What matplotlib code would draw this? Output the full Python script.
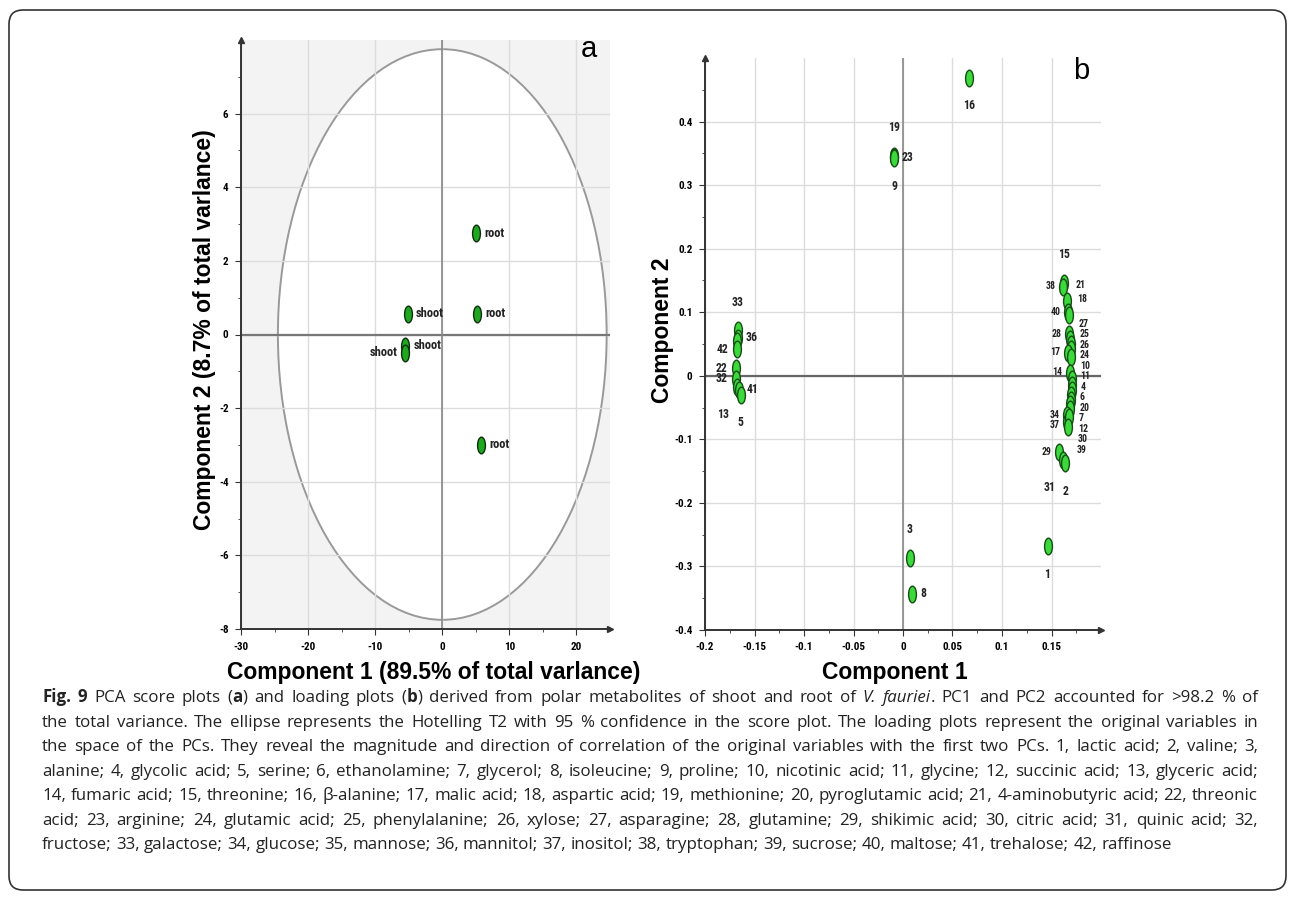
import matplotlib
matplotlib.use("Agg")
import matplotlib.pyplot as plt
import numpy as np
from matplotlib import font_manager
from matplotlib.patches import Ellipse, FancyBboxPatch
from matplotlib.path import Path
from matplotlib.transforms import IdentityTransform, offset_copy

# ---- panel a: PCA scores ----
score_x = [5.1, 5.2, 5.8, -5.1, -5.5, -5.5]
score_y = [2.75, 0.57, -3.0, 0.57, -0.3, -0.5]
score_names = ["root", "root", "root", "shoot", "shoot", "shoot"]
score_side = ["r", "r", "r", "r", "r", "l"]
t2_a, t2_b = 24.5, 7.75   # Hotelling T2 ellipse half axes

# ---- panel b: loadings ----
load_ids = ["16", "19", "23", "9", "3", "8", "1", "29", "31", "2",
            "33", "36", "35", "42", "22", "32", "13", "41", "5",
            "15", "38", "21", "40", "18", "28", "27", "25", "26", "17", "24",
            "14", "10", "11", "4", "6", "20", "7", "12", "34", "37", "30", "39"]
load_x = [0.067, -0.009, -0.009, -0.009, 0.007, 0.009, 0.146, 0.158, 0.162, 0.164,
          -0.167, -0.167, -0.168, -0.168, -0.169, -0.169, -0.168, -0.166, -0.164,
          0.163, 0.162, 0.166, 0.167, 0.168, 0.168, 0.169, 0.170, 0.170, 0.167, 0.170,
          0.169, 0.171, 0.171, 0.171, 0.170, 0.170, 0.169, 0.169, 0.166, 0.166, 0.168, 0.167]
load_y = [0.469, 0.346, 0.344, 0.342, -0.286, -0.343, -0.268, -0.120, -0.133, -0.138,
          0.072, 0.060, 0.055, 0.042, 0.012, -0.005, -0.018, -0.022, -0.030,
          0.146, 0.140, 0.118, 0.100, 0.096, 0.065, 0.058, 0.050, 0.042, 0.036, 0.030,
          0.005, -0.005, -0.015, -0.022, -0.030, -0.038, -0.045, -0.052, -0.062, -0.072, -0.065, -0.080]
load_side = ["b", "t", "r", "b", "t", "r", "b", "l", "bl", "b",
             "t", "r", "", "l", "l", "l", "bl", "r", "b",
             "t", "l", "r", "l", "r", "l", "r", "r", "r", "l", "r",
             "l", "r", "r", "r", "r", "r", "r", "r", "l", "l", "r", "r"]

caption_first = [("Fig. 9", "bold", "normal"), (" PCA score plots (", "normal", "normal"),
                 ("a", "bold", "normal"), (") and loading plots (", "normal", "normal"),
                 ("b", "bold", "normal"),
                 (") derived from polar metabolites of shoot and root of ", "normal", "normal"),
                 ("V. fauriei", "normal", "italic"),
                 (". PC1 and PC2 accounted for >98.2 % of", "normal", "normal")]
caption_rest = [
    "the total variance. The ellipse represents the Hotelling T2 with 95 % confidence in the score plot. The loading plots represent the original variables in",
    "the space of the PCs. They reveal the magnitude and direction of correlation of the original variables with the first two PCs. 1, lactic acid; 2, valine; 3,",
    "alanine; 4, glycolic acid; 5, serine; 6, ethanolamine; 7, glycerol; 8, isoleucine; 9, proline; 10, nicotinic acid; 11, glycine; 12, succinic acid; 13, glyceric acid;",
    "14, fumaric acid; 15, threonine; 16, \u03b2-alanine; 17, malic acid; 18, aspartic acid; 19, methionine; 20, pyroglutamic acid; 21, 4-aminobutyric acid; 22, threonic",
    "acid; 23, arginine; 24, glutamic acid; 25, phenylalanine; 26, xylose; 27, asparagine; 28, glutamine; 29, shikimic acid; 30, citric acid; 31, quinic acid; 32,",
    "fructose; 33, galactose; 34, glucose; 35, mannose; 36, mannitol; 37, inositol; 38, tryptophan; 39, sucrose; 40, maltose; 41, trehalose; 42, raffinose",
]

names = {f.name for f in font_manager.fontManager.ttflist}


def pick(*cands):
    for c in cands:
        if c in names:
            return c
    return "DejaVu Sans"


narrow = pick("Liberation Sans Narrow", "Roboto Condensed", "Liberation Sans")
arial = pick("Liberation Sans", "Arial")
cap_font = pick("Open Sans", "Noto Sans", "Lato")

W, H = 1296, 900
fig = plt.figure(figsize=(W / 100, H / 100), dpi=100)

circ = Path.unit_circle()
oval = Path(circ.vertices * [0.47, 1.0], circ.codes)

offsets = {"r": (8, 0, "left"), "l": (-8, 0, "right"), "t": (0, 28, "center"),
           "b": (0, -28, "center"), "bl": (-14, -27, "center")}


def spread(ys, gap):
    # push stacked labels apart so each keeps at least `gap` (data units)
    order = np.argsort(ys)[::-1]
    new = np.array(ys, dtype=float)
    for k in range(1, len(order)):
        i, j = order[k], order[k - 1]
        new[i] = min(new[i], new[j] - gap)
    new += np.mean(ys) - np.mean(new)
    return new


def draw_labels(ax, xs, ys, txts, sides, fs, fs_crowd, gap_px):
    xs, ys = np.asarray(xs), np.asarray(ys)
    lab_y = ys.astype(float).copy()
    sizes = np.full(len(xs), fs)
    ppu = ax.bbox.height / np.diff(ax.get_ylim())[0]
    for side in ["l", "r"]:
        idx = [i for i, s in enumerate(sides) if s == side]
        # group labels that sit in the same column of points
        groups = []
        for i in sorted(idx, key=lambda k: xs[k]):
            if groups and abs(xs[i] - xs[groups[-1][-1]]) < 0.03 * np.ptp(ax.get_xlim()):
                groups[-1].append(i)
            else:
                groups.append([i])
        for g in groups:
            if len(g) > 3:
                lab_y[g] = spread(ys[g], gap_px / ppu)
                sizes[g] = fs_crowd
    for x, ly, t, s, f in zip(xs, lab_y, txts, sides, sizes):
        if s not in offsets:
            continue
        dx, dy, ha = offsets[s]
        tr = offset_copy(ax.transData, fig=fig, x=dx, y=dy, units="dots")
        ax.text(x, ly, t, transform=tr, ha=ha, va="center", fontsize=f,
                family=narrow, fontweight="bold", color="#222222")


def style_axes(ax):
    for s in ["top", "right"]:
        ax.spines[s].set_visible(False)
    for s in ["left", "bottom"]:
        ax.spines[s].set_color("#333333")
        ax.spines[s].set_linewidth(1.4)
    ax.tick_params(which="both", direction="out", color="#333333", pad=5)
    ax.tick_params(which="major", length=4, labelsize=8)
    ax.tick_params(which="minor", length=2.5)
    for lab in ax.get_xticklabels() + ax.get_yticklabels():
        lab.set_family(narrow)
        lab.set_fontweight("bold")
    ax.grid(True, which="major", color="#dcdcdc", lw=1)
    ax.set_axisbelow(True)
    ax.plot(0, 1, "^", color="#333333", ms=5, transform=ax.transAxes, clip_on=False)
    ax.plot(1, 0, ">", color="#333333", ms=5, transform=ax.transAxes, clip_on=False)


def fmt(v, pos=None):
    v = round(v, 3)
    return "0" if v == 0 else f"{v:g}"


# ---- panel a ----
ax1 = fig.add_axes([241 / W, 1 - 629 / H, 369 / W, 589 / H])
ax1.set_facecolor("#f3f3f3")
ax1.set_xlim(-30, 25)
ax1.set_ylim(-8, 8)
ax1.set_xticks(np.arange(-30, 21, 10))
ax1.set_xticks(np.arange(-25, 16, 10), minor=True)
ax1.set_yticks(np.arange(-8, 7, 2))
ax1.set_yticks(np.arange(-7, 8, 2), minor=True)
ax1.xaxis.set_major_formatter(fmt)
ax1.yaxis.set_major_formatter(fmt)
ax1.add_patch(Ellipse((0, 0), 2 * t2_a, 2 * t2_b, facecolor="white",
                      edgecolor="#999999", lw=1.4, zorder=0.2))
ax1.axhline(0, color="#777777", lw=1.6, zorder=1)
ax1.axvline(0, color="#888888", lw=1.2, zorder=1)
ax1.plot(score_x, score_y, ls="none", marker=oval, ms=12, mfc="#1fa81f",
         mec="#0d2d0d", mew=1.0, zorder=3)
draw_labels(ax1, score_x, score_y, score_names, score_side, 9, 9, 0)
style_axes(ax1)
ax1.text(21.8, 7.75, "a", fontsize=21, family=arial, ha="center", va="center")

# ---- panel b ----
ax2 = fig.add_axes([705 / W, 1 - 630 / H, 396 / W, 572 / H])
ax2.set_facecolor("white")
ax2.set_xlim(-0.2, 0.2)
ax2.set_ylim(-0.4, 0.5)
ax2.set_xticks(np.arange(-0.2, 0.16, 0.05))
ax2.set_xticks(np.arange(-0.175, 0.2, 0.05), minor=True)
ax2.set_yticks(np.arange(-0.4, 0.41, 0.1))
ax2.set_yticks(np.arange(-0.35, 0.5, 0.1), minor=True)
ax2.xaxis.set_major_formatter(fmt)
ax2.yaxis.set_major_formatter(fmt)
ax2.axhline(0, color="#666666", lw=1.6, zorder=1)
ax2.axvline(0, color="#888888", lw=1.2, zorder=1)
ax2.plot(load_x, load_y, ls="none", marker=oval, ms=12, mfc="#3cd83c",
         mec="#134d13", mew=1.0, zorder=3)
draw_labels(ax2, load_x, load_y, load_ids, load_side, 8.5, 7, 10.5)
style_axes(ax2)
ax2.text(0.180, 0.48, "b", fontsize=21, family=arial, ha="center", va="center")

# ---- axis titles ----
lab_kw = dict(fontsize=16.5, fontweight="bold", family=arial, ha="center", va="center")
fig.text(205 / W, 1 - 330 / H, "Component 2 (8.7% of total varlance)", rotation=90, **lab_kw)
fig.text(434 / W, 1 - 672 / H, "Component 1 (89.5% of total varlance)", **lab_kw)
fig.text(663 / W, 1 - 330 / H, "Component 2", rotation=90, **lab_kw)
fig.text(895 / W, 1 - 672 / H, "Component 1", **lab_kw)

# ---- caption and frame ----
cap = fig.add_axes([0, 0, 1, 1])
cap.axis("off")
cap.set_xlim(0, W)
cap.set_ylim(H, 0)
cap.add_patch(FancyBboxPatch((9, 10), W - 19, H - 20, boxstyle="round,pad=0,rounding_size=14",
                             transform=IdentityTransform(), facecolor="none",
                             edgecolor="#333333", lw=1.2))

renderer = fig.canvas.get_renderer()


def to_words(runs):
    words = [[]]
    for txt, wt, st in runs:
        for i, p in enumerate(txt.split(" ")):
            if i > 0:
                words.append([])
            if p:
                words[-1].append((p, wt, st))
    return [w for w in words if w]


def width(s, fs, wt="normal", st="normal"):
    t = cap.text(0, 0, s, fontsize=fs, family=cap_font, fontweight=wt, style=st)
    w = t.get_window_extent(renderer).width
    t.remove()
    return w


cap_lines = [to_words(caption_first)] + [to_words([(l, "normal", "normal")]) for l in caption_rest]
x0, x1 = 42, 1258
baselines = [702, 727, 751, 776, 800, 825, 849]

# font size so the longest line fits between the margins
plain = ["".join(r[0] for r in caption_first)] + caption_rest
cap_fs = 10 * (x1 - x0) / max(width(l, 10) for l in plain) * 0.985
space = width("a a", cap_fs) - width("aa", cap_fs)

for li, (words, yb) in enumerate(zip(cap_lines, baselines)):
    wws = [[width(r[0], cap_fs, r[1], r[2]) for r in w] for w in words]
    total = sum(sum(w) for w in wws)
    last = li == len(cap_lines) - 1
    gap = space if last else (x1 - x0 - total) / (len(words) - 1)
    x = x0
    for w, ww in zip(words, wws):
        for (txt, wt, st), rw in zip(w, ww):
            cap.text(x, yb, txt, fontsize=cap_fs, family=cap_font, fontweight=wt,
                     style=st, va="baseline", ha="left", color="#222222")
            x += rw
        x += gap

fig.savefig("out.png", dpi=100)
